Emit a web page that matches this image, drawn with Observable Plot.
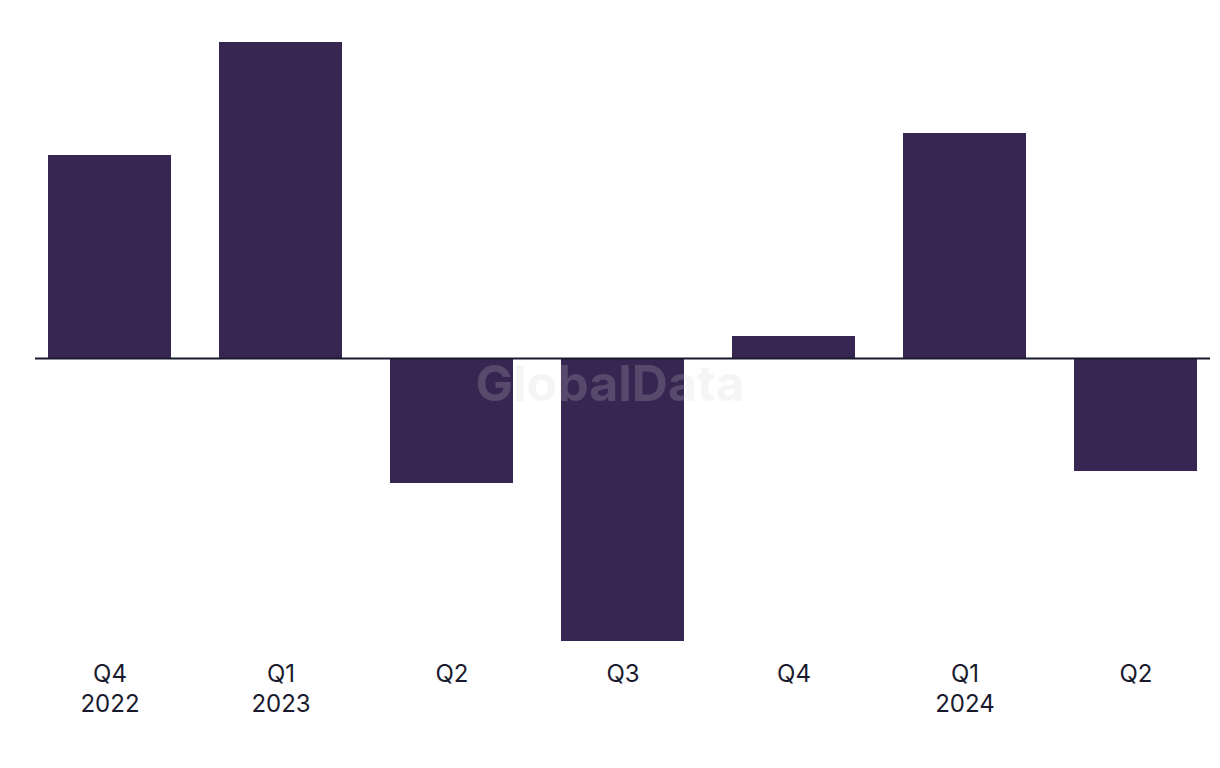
<!DOCTYPE html>
<html>
<head>
<meta charset="utf-8">
<script src="https://cdn.jsdelivr.net/npm/d3@7"></script>
<script src="https://cdn.jsdelivr.net/npm/@observablehq/plot@0.6"></script>
<style>
  html, body { margin: 0; padding: 0; background: #ffffff; }
  #chart { width: 1220px; }
</style>
</head>
<body>
<div id="chart"></div>
<script>
const periods = ["Q4 2022", "Q1 2023", "Q2 2023", "Q3 2023", "Q4 2023", "Q1 2024", "Q2 2024"];
const tickLabels = ["Q4\n2022", "Q1\n2023", "Q2", "Q3", "Q4", "Q1\n2024", "Q2"];
const values = [20.3, 31.6, -12.5, -28.3, 2.2, 22.5, -11.3];

const data = periods.map((p, i) => ({period: p, value: values[i]}));
const labelOf = new Map(periods.map((p, i) => [p, tickLabels[i]]));

const chart = Plot.plot({
  width: 1220,
  height: 740,
  marginTop: 42,
  marginBottom: 99,
  marginLeft: 35,
  marginRight: 10,
  style: {fontFamily: "Inter, 'Noto Sans', sans-serif", background: "#ffffff"},
  x: {domain: periods, padding: 0.28, paddingOuter: 0.07, label: null},
  y: {domain: [d3.min(values), d3.max(values)], axis: null},
  marks: [
    Plot.barY(data, {x: "period", y: "value", fill: "#372552"}),
    Plot.ruleY([0], {stroke: "#1a1a2e", strokeWidth: 2}),
    Plot.text(["GlobalData"], {
      frameAnchor: "middle",
      text: d => d, dx: -13, dy: 43,
      fontSize: 50, fontWeight: 700, fill: "#cfcfcf", fillOpacity: 0.21
    }),
    Plot.axisX({
      tickSize: 0, tickPadding: 19, fontSize: 24, fill: "#1a1a2e",
      lineHeight: 1.25, tickFormat: d => labelOf.get(d), label: null
    })
  ]
});
document.getElementById("chart").appendChild(chart);
</script>
</body>
</html>
